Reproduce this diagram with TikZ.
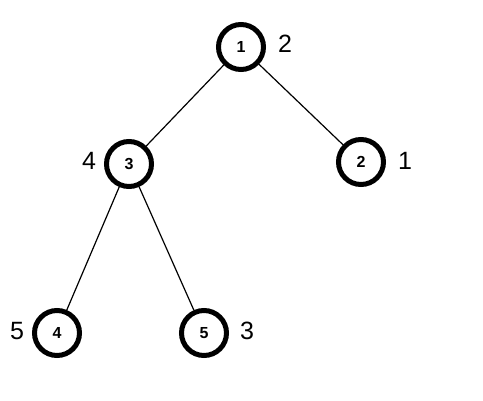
\documentclass[tikz,border=0pt]{standalone}
\usepackage{fontspec}
\setmainfont{Liberation Sans}
\begin{document}
\begin{tikzpicture}[x=1pt,y=-1pt,
  vtx/.style={circle,draw=black,line width=5pt,minimum size=45pt,inner sep=0pt,font=\fontsize{16}{16}\selectfont\bfseries},
  lbl/.style={font=\fontsize{25}{25}\selectfont},
  edge/.style={line width=1.2pt}]
\useasboundingbox (0,0) rectangle (483,400);
\node[vtx] (n1) at (241,47) {1};
\node[vtx] (n3) at (129,164) {3};
\node[vtx] (n2) at (361,162) {2};
\node[vtx] (n4) at (57,333) {4};
\node[vtx] (n5) at (204,333) {5};
\node[lbl] (l1) at (285,44) {2};
\node[lbl] (l3) at (89,161) {4};
\node[lbl] (l2) at (405,161) {1};
\node[lbl] (l4) at (17,331) {5};
\node[lbl] (l5) at (247,331) {3};
\draw[edge] (n1) -- (n3);
\draw[edge] (n1) -- (n2);
\draw[edge] (n3) -- (n4);
\draw[edge] (n3) -- (n5);
\end{tikzpicture}
\end{document}
